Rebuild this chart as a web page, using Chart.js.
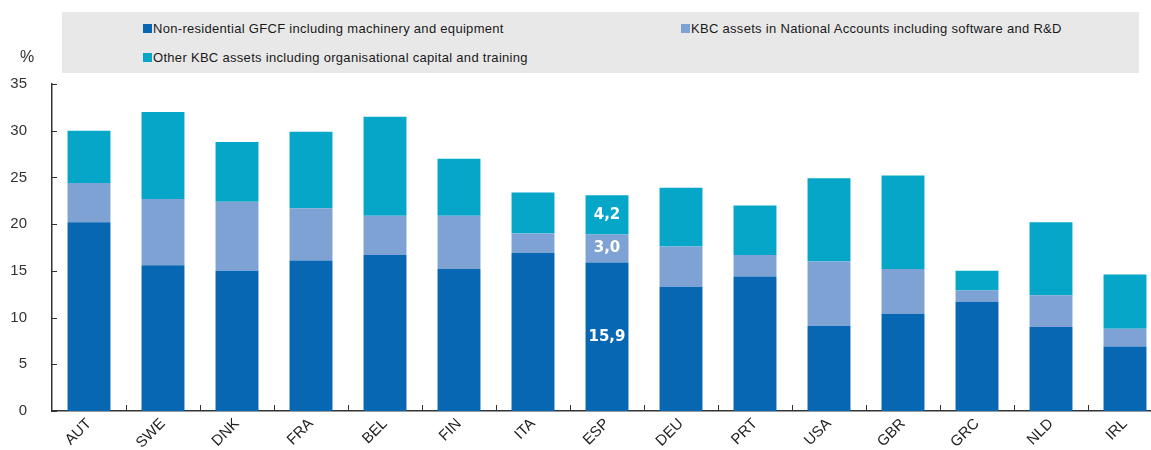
<!DOCTYPE html>
<html>
<head>
<meta charset="utf-8">
<script src="https://cdn.jsdelivr.net/npm/chart.js@4"></script>
<style>
  body { margin:0; background:#fff; overflow:hidden; width:1151px; height:450px; position:relative; font-family:"Liberation Sans", Arial, sans-serif; }
  #legendBox { position:absolute; left:62px; top:12px; width:1077px; height:61px; background:#e8e8e8; }
  .item { position:absolute; font-size:13px; line-height:15px; color:#1a1a1a; letter-spacing:0.3px; white-space:nowrap; }
  .item span { display:inline-block; width:9px; height:9px; margin-right:1px; vertical-align:0px; }
  #pct { position:absolute; left:20px; top:48px; font-size:16px; color:#333; }
  #wrap { position:absolute; left:0; top:0; }
</style>
</head>
<body>
<div id="wrap"><canvas id="chart" width="1162" height="450"></canvas></div>
<div id="legendBox"></div>
<div id="pct">%</div>
<script>
const countries = ['AUT','SWE','DNK','FRA','BEL','FIN','ITA','ESP','DEU','PRT','USA','GBR','GRC','NLD','IRL'];
const nonResidential = [20.2, 15.6, 15.0, 16.1, 16.7, 15.2, 16.9, 15.9, 13.3, 14.4, 9.1, 10.4, 11.7, 9.0, 6.9];
const kbcNational = [4.2, 7.1, 7.4, 5.6, 4.2, 5.7, 2.1, 3.0, 4.3, 2.3, 6.9, 4.8, 1.2, 3.4, 1.9];
const kbcOther = [5.6, 9.3, 6.4, 8.2, 10.6, 6.1, 4.4, 4.2, 6.3, 5.3, 8.9, 10.0, 2.1, 7.8, 5.8];
const seriesNames = [
  'Non-residential GFCF including machinery and equipment',
  'KBC assets in National Accounts including software and R&D',
  'Other KBC assets including organisational capital and training'
];
const labelled = 'ESP';

const colors = ['#0867b3', '#7ea2d3', '#05a6c7'];

// legend inside the grey box
const legendPos = [[81, 9], [619, 9], [81, 38]];
document.getElementById('legendBox').innerHTML = seriesNames.map((n, i) => `
  <div class="item" style="left:${legendPos[i][0]}px; top:${legendPos[i][1]}px;"><span style="background:${colors[i]}"></span>${n}</div>
`).join('');

// inward ticks + value labels on the highlighted bar
const extras = {
  id: 'extras',
  afterDatasetsDraw(chart) {
    const ctx = chart.ctx;
    const x = chart.scales.x, y = chart.scales.y;
    ctx.save();
    ctx.strokeStyle = '#333';
    ctx.lineWidth = 1;
    y.ticks.forEach(t => {
      const py = Math.round(y.getPixelForValue(t.value)) + 0.5;
      ctx.beginPath(); ctx.moveTo(x.left, py); ctx.lineTo(x.left + 5, py); ctx.stroke();
    });
    for (let i = 1; i < countries.length; i++) {
      const px = Math.round((x.getPixelForValue(i - 1) + x.getPixelForValue(i)) / 2) + 0.5;
      ctx.beginPath(); ctx.moveTo(px, y.bottom); ctx.lineTo(px, y.bottom - 6); ctx.stroke();
    }
    const idx = countries.indexOf(labelled);
    ctx.fillStyle = '#fff';
    ctx.font = 'bold 15px "DejaVu Sans"';
    ctx.textAlign = 'center';
    ctx.textBaseline = 'middle';
    chart.data.datasets.forEach((ds, d) => {
      const bar = chart.getDatasetMeta(d).data[idx];
      const mid = (bar.y + bar.base) / 2;
      ctx.fillText(ds.data[idx].toFixed(1).replace('.', ','), bar.x, mid);
    });
    ctx.restore();
  }
};

new Chart(document.getElementById('chart'), {
  type: 'bar',
  data: {
    labels: countries,
    datasets: [nonResidential, kbcNational, kbcOther].map((vals, i) => ({
      label: seriesNames[i],
      data: vals,
      backgroundColor: colors[i],
      barPercentage: 0.58,
      categoryPercentage: 1
    }))
  },
  options: {
    responsive: false,
    animation: false,
    devicePixelRatio: 1,
    layout: { padding: { top: 84, right: 0, left: 0, bottom: 0 } },
    plugins: { legend: { display: false }, tooltip: { enabled: false } },
    scales: {
      x: {
        stacked: true,
        grid: { display: false },
        border: { display: true, color: '#333', width: 1.5 },
        ticks: { color: '#222', font: { family: 'Liberation Sans', size: 15 }, minRotation: 45, maxRotation: 45, padding: -4 },
        afterFit(s) { s.height = 39; }
      },
      y: {
        stacked: true,
        min: 0, max: 35,
        grid: { display: false },
        border: { display: true, color: '#333', width: 1.5 },
        ticks: { stepSize: 5, color: '#333', font: { family: 'Liberation Sans', size: 15 }, padding: 17 },
        afterFit(s) { s.width = 52; }
      }
    }
  },
  plugins: [extras]
});
</script>
</body>
</html>
